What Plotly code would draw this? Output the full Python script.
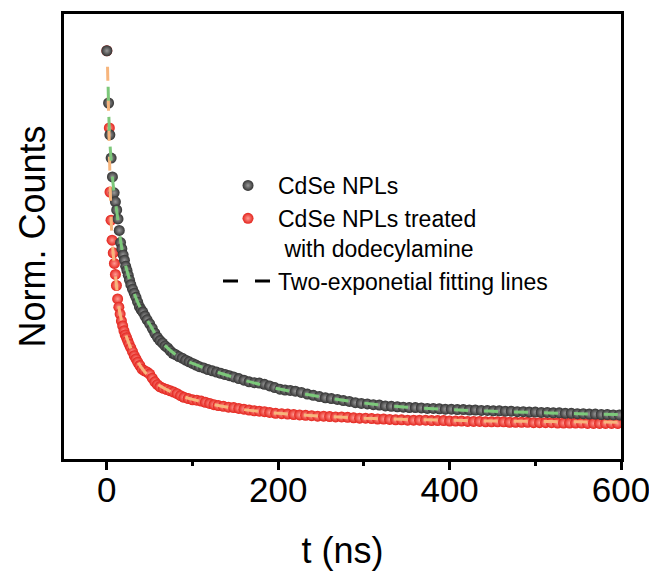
import plotly.graph_objects as go

# ---- data ----
t_npl = [0, 2, 3.5, 5, 6.5, 8.5, 10, 11.5, 13, 14.5, 16, 17.5, 19, 20.5, 22, 23.5, 25, 26.5, 28, 30,
         32, 34, 36, 38, 40, 42, 44.5, 47, 50, 53, 56, 59, 62, 65, 68, 71, 74, 77, 80, 84,
         88, 92, 96, 100, 104, 108, 113, 118, 123, 128, 133, 138, 143, 148, 154, 160, 166, 172, 178, 184,
         190, 196, 202, 208, 214, 220, 227, 234, 241, 248, 255, 262, 269, 276, 283, 290, 297, 304, 311, 318,
         325, 332, 339, 346, 353, 360, 367, 374, 381, 388, 395, 402, 409, 416, 423, 430, 437, 444, 451, 458,
         465, 472, 479, 486, 493, 500, 507, 514, 521, 528, 535, 542, 549, 556, 563, 570, 577, 584, 591, 598]
y_npl = [1.000, 0.872, 0.794, 0.737, 0.691, 0.652, 0.630, 0.610, 0.588, 0.560, 0.530, 0.515, 0.500, 0.487, 0.472, 0.462, 0.450, 0.438, 0.427, 0.416,
         0.406, 0.396, 0.384, 0.373, 0.366, 0.360, 0.350, 0.341, 0.331, 0.320, 0.308, 0.298, 0.290, 0.284, 0.277, 0.272, 0.265, 0.259, 0.256, 0.251,
         0.247, 0.242, 0.238, 0.234, 0.230, 0.226, 0.223, 0.219, 0.216, 0.213, 0.210, 0.207, 0.204, 0.201, 0.197, 0.193, 0.189, 0.187, 0.186, 0.183,
         0.179, 0.175, 0.171, 0.169, 0.168, 0.166, 0.163, 0.159, 0.156, 0.153, 0.150, 0.148, 0.146, 0.143, 0.141, 0.138, 0.136, 0.135, 0.133, 0.132,
         0.130, 0.129, 0.128, 0.127, 0.126, 0.126, 0.125, 0.124, 0.124, 0.123, 0.122, 0.122, 0.121, 0.121, 0.120, 0.120, 0.119, 0.119, 0.118, 0.118,
         0.117, 0.117, 0.116, 0.116, 0.115, 0.115, 0.114, 0.114, 0.113, 0.113, 0.112, 0.112, 0.111, 0.111, 0.110, 0.110, 0.109, 0.109, 0.108, 0.108]

t_dda = [0, 2.9, 3.7, 4.9, 6.1, 7.5, 8.8, 10, 11.2, 12.6, 14, 15.5, 17, 18.5, 20, 21.5, 23, 24.5, 26, 28,
         30, 32, 34, 36, 38.5, 41, 44, 47, 50, 53, 56, 59, 62, 66, 70, 74, 78, 82, 86, 90,
         95, 100, 105, 110, 115, 120, 125, 130, 136, 142, 148, 154, 160, 166, 172, 178, 184, 190, 197, 204,
         211, 218, 225, 232, 239, 246, 253, 260, 267, 274, 281, 288, 295, 302, 309, 316, 323, 330, 337, 344,
         351, 358, 365, 372, 379, 386, 393, 400, 407, 414, 421, 428, 435, 442, 449, 456, 463, 470, 477, 484,
         491, 498, 505, 512, 519, 526, 533, 540, 547, 554, 561, 568, 575, 582, 589, 596]
y_dda = [1.000, 0.811, 0.654, 0.585, 0.536, 0.505, 0.479, 0.452, 0.425, 0.392, 0.372, 0.355, 0.338, 0.326, 0.314, 0.304, 0.297, 0.289, 0.281, 0.272,
         0.263, 0.253, 0.245, 0.237, 0.229, 0.220, 0.216, 0.213, 0.208, 0.198, 0.189, 0.182, 0.177, 0.173, 0.170, 0.167, 0.164, 0.160, 0.155, 0.151,
         0.148, 0.145, 0.144, 0.142, 0.139, 0.136, 0.133, 0.131, 0.129, 0.127, 0.126, 0.124, 0.122, 0.120, 0.118, 0.117, 0.116, 0.114, 0.112, 0.111,
         0.110, 0.109, 0.108, 0.107, 0.106, 0.105, 0.105, 0.104, 0.103, 0.103, 0.102, 0.101, 0.100, 0.100, 0.099, 0.098, 0.098, 0.097, 0.096, 0.096,
         0.095, 0.095, 0.095, 0.095, 0.094, 0.094, 0.094, 0.093, 0.093, 0.093, 0.092, 0.092, 0.092, 0.091, 0.091, 0.091, 0.091, 0.090, 0.090, 0.090,
         0.090, 0.089, 0.089, 0.089, 0.089, 0.088, 0.088, 0.088, 0.088, 0.088, 0.087, 0.087, 0.087, 0.087, 0.087, 0.087]

t_fit_npl = [1.5, 3, 5, 8, 12, 16, 20, 25, 30, 40, 50, 60, 80, 100, 130, 160, 200, 250, 300, 350, 400, 450, 500, 550, 600]
y_fit_npl = [0.912, 0.800, 0.730, 0.660, 0.600, 0.535, 0.490, 0.450, 0.416, 0.366, 0.330, 0.296, 0.256, 0.234, 0.212, 0.193, 0.172, 0.152, 0.137, 0.127, 0.121, 0.117, 0.114, 0.111, 0.109]

t_fit_dda = [0.8, 2, 3, 4, 5, 6, 8, 10, 12, 15, 20, 25, 30, 40, 50, 60, 80, 100, 130, 160, 200, 250, 300, 350, 400, 450, 500, 550, 600]
y_fit_dda = [0.961, 0.850, 0.750, 0.660, 0.590, 0.540, 0.490, 0.450, 0.410, 0.360, 0.318, 0.287, 0.262, 0.225, 0.200, 0.182, 0.160, 0.146, 0.131, 0.121, 0.112, 0.105, 0.100, 0.097, 0.095, 0.093, 0.092, 0.091, 0.090]

x_ticks = [0, 200, 400, 600]
name_npl = "CdSe NPLs"
name_dda = "CdSe NPLs treated<br> with dodecylamine"
name_fit = "Two-exponetial fitting lines"

FONT = "Arial, Liberation Sans, sans-serif"

fig = go.Figure()
fig.add_trace(go.Scatter(
    x=t_dda, y=y_dda, mode="markers", name=name_dda, legendrank=2,
    marker=dict(size=11, color="#e3231c", line=dict(width=0),
                gradient=dict(type="radial", color="#ff9a92"))))
fig.add_trace(go.Scatter(
    x=t_npl, y=y_npl, mode="markers", name=name_npl, legendrank=1,
    marker=dict(size=11, color="#333333", line=dict(width=0),
                gradient=dict(type="radial", color="#999999"))))
fig.add_trace(go.Scatter(
    x=t_fit_dda, y=y_fit_dda, mode="lines", showlegend=False, line_shape="spline",
    line=dict(color="#f7b57c", width=3, dash="14px,16px")))
fig.add_trace(go.Scatter(
    x=t_fit_npl, y=y_fit_npl, mode="lines", showlegend=False, line_shape="spline",
    line=dict(color="#7cc87a", width=3, dash="14px,16px")))
fig.add_trace(go.Scatter(
    x=[None], y=[None], mode="lines", name=name_fit, legendrank=3,
    line=dict(color="black", width=3, dash="15px,17px")))

fig.update_layout(
    width=649, height=564,
    margin=dict(l=56, r=36, t=6, b=113),
    plot_bgcolor="white", paper_bgcolor="white",
    font=dict(family=FONT, color="black"),
    showlegend=True,
    legend=dict(x=0.2765, y=0.663, xanchor="left", yanchor="top",
                font=dict(size=23, family=FONT), bgcolor="rgba(0,0,0,0)",
                itemwidth=50, valign="top", tracegroupgap=0),
    xaxis=dict(range=[-50, 600], tickvals=x_ticks, ticktext=[str(v) for v in x_ticks],
               ticks="outside", ticklen=8, tickwidth=2.5, tickcolor="black",
               tickfont=dict(size=35), showline=True, linewidth=3, linecolor="black",
               mirror=True, showgrid=False, zeroline=False, ticklabelstandoff=-10,
               automargin=False,
               minor=dict(ticks="outside", ticklen=4, tickwidth=2.5, tickcolor="black",
                          dtick=100, tick0=0, showgrid=False),
               title=dict(text="t (ns)", font=dict(size=36), standoff=30)),
    yaxis=dict(range=[0, 1.09], showticklabels=False, ticks="",
               showline=True, linewidth=3, linecolor="black", mirror=True,
               showgrid=False, zeroline=False, automargin=False,
               title=dict(text="Norm. Counts", font=dict(size=36), standoff=5)),
)

fig.write_html("out.html")
